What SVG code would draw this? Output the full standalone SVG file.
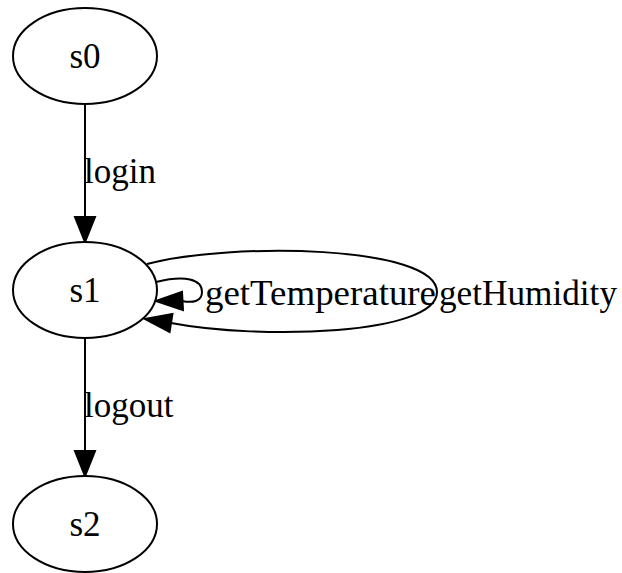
<svg xmlns="http://www.w3.org/2000/svg" width="622" height="573" viewBox="0 0 622 573">
<style>
.node ellipse{fill:#fff;stroke:#000;stroke-width:2}
text{font-family:"Liberation Serif","Times New Roman",serif;font-size:35px;fill:#000}
.edge path{fill:none;stroke:#000;stroke-width:2}
.edge polygon{fill:#000;stroke:#000;stroke-width:2}
</style>
<rect width="622" height="573" fill="#fff"/>
<g id="edges" class="edge">
  <g id="e_s0_s1">
    <path d="M85,104 L85,217"/>
    <polygon points="75,217 95,217 85,242"/>
    <text x="84" y="183">login</text>
  </g>
  <g id="e_s1_s1_temp">
    <path d="M156,282 C185,275 202,279 202,292 C202,302 192,303 182,301"/>
    <polygon points="182,292 183,310 156,301"/>
    <text x="205" y="305" textLength="231" lengthAdjust="spacingAndGlyphs">getTemperature</text>
  </g>
  <g id="e_s1_s1_hum">
    <path d="M147,264 C230,242 437,245 437,292 C437,335 260,340 171,323"/>
    <polygon points="172.4,314.1 169.6,331.9 145,319"/>
    <text x="439" y="305" textLength="178" lengthAdjust="spacingAndGlyphs">getHumidity</text>
  </g>
  <g id="e_s1_s2">
    <path d="M85,338 L85,451"/>
    <polygon points="75,451 95,451 85,476"/>
    <text x="84" y="417">logout</text>
  </g>
</g>
<g id="s0" class="node"><ellipse cx="85" cy="56" rx="72" ry="48"/><text x="85" y="68" text-anchor="middle">s0</text></g>
<g id="s1" class="node"><ellipse cx="85" cy="290" rx="72" ry="48"/><text x="85" y="302" text-anchor="middle">s1</text></g>
<g id="s2" class="node"><ellipse cx="85" cy="524" rx="72" ry="48"/><text x="85" y="536" text-anchor="middle">s2</text></g>
</svg>
